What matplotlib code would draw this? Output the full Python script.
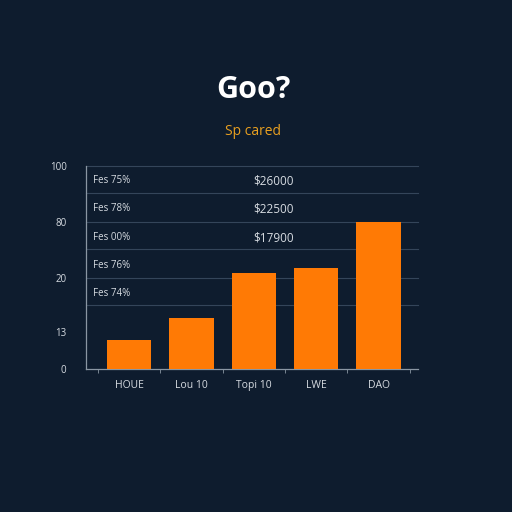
import numpy as np
import matplotlib
matplotlib.use('Agg')
import matplotlib.pyplot as plt

plt.rcParams['font.family'] = ['Open Sans', 'DejaVu Sans']

# 데이터
categories = ['HOUE', 'Lou 10', 'Topi 10', 'LWE', 'DAO']
values = [14.3, 25.0, 47.3, 49.8, 72.4]
ytick_vals = [0, 18.2, 44.8, 72.4, 100]
ytick_labels = ['0', '13', '20', '80', '100']
grid_vals = [31.5, 45.0, 59.0, 72.4, 86.6, 100]
fes_labels = ['Fes 75%', 'Fes 78%', 'Fes 00%', 'Fes 76%', 'Fes 74%']
fes_y = [92.8, 78.8, 64.7, 51.2, 37.4]
money_labels = ['$26000', '$22500', '$17900']

bg = '#0e1c2e'
orange = '#ff7a05'
txt = '#d6dbe1'

fig = plt.figure(figsize=(5.12, 5.12), dpi=100, facecolor=bg)
ax = fig.add_axes([0.168, 0.279, 0.648, 0.397], facecolor=bg)

x = np.arange(len(categories))
ax.bar(x, values, width=0.71, color=orange, zorder=3)

ax.set_xlim(-0.69, 4.63)
ax.set_ylim(0, 100)

# 그리드
for g in grid_vals:
    ax.axhline(g, color='#34455a', linewidth=0.8, zorder=0, clip_on=False)
ax.set_yticks(ytick_vals)
ax.set_yticklabels(ytick_labels)
ax.tick_params(axis='y', which='both', length=0, colors=txt, labelsize=7, pad=14)

ax.set_xticks(x)
ax.set_xticklabels(categories)
ax.set_xticks(np.arange(-0.5, len(categories)), minor=True)
ax.tick_params(axis='x', which='major', length=0, colors=txt, labelsize=7.5, pad=8)
ax.tick_params(axis='x', which='minor', length=3, color='#8a96a3', direction='out')

for s in ['top', 'right']:
    ax.spines[s].set_visible(False)
for s in ['left', 'bottom']:
    ax.spines[s].set_color('#8a96a3')
    ax.spines[s].set_linewidth(0.9)

# 텍스트
for lab, yy in zip(fes_labels, fes_y):
    ax.text(-0.58, yy, lab, color=txt, fontsize=7, ha='left', va='center', zorder=4)
for lab, yy in zip(money_labels, fes_y):
    ax.text(2.31, yy, lab, color=txt, fontsize=8.5, ha='center', va='center', zorder=4)

fig.text(0.495, 0.824, 'Goo?', color='white', fontsize=22, fontweight='bold',
         ha='center', va='center')
fig.text(0.495, 0.744, 'Sp cared', color='#e9a020', fontsize=10,
         ha='center', va='center')

fig.savefig('out.png', dpi=100, facecolor=bg)
